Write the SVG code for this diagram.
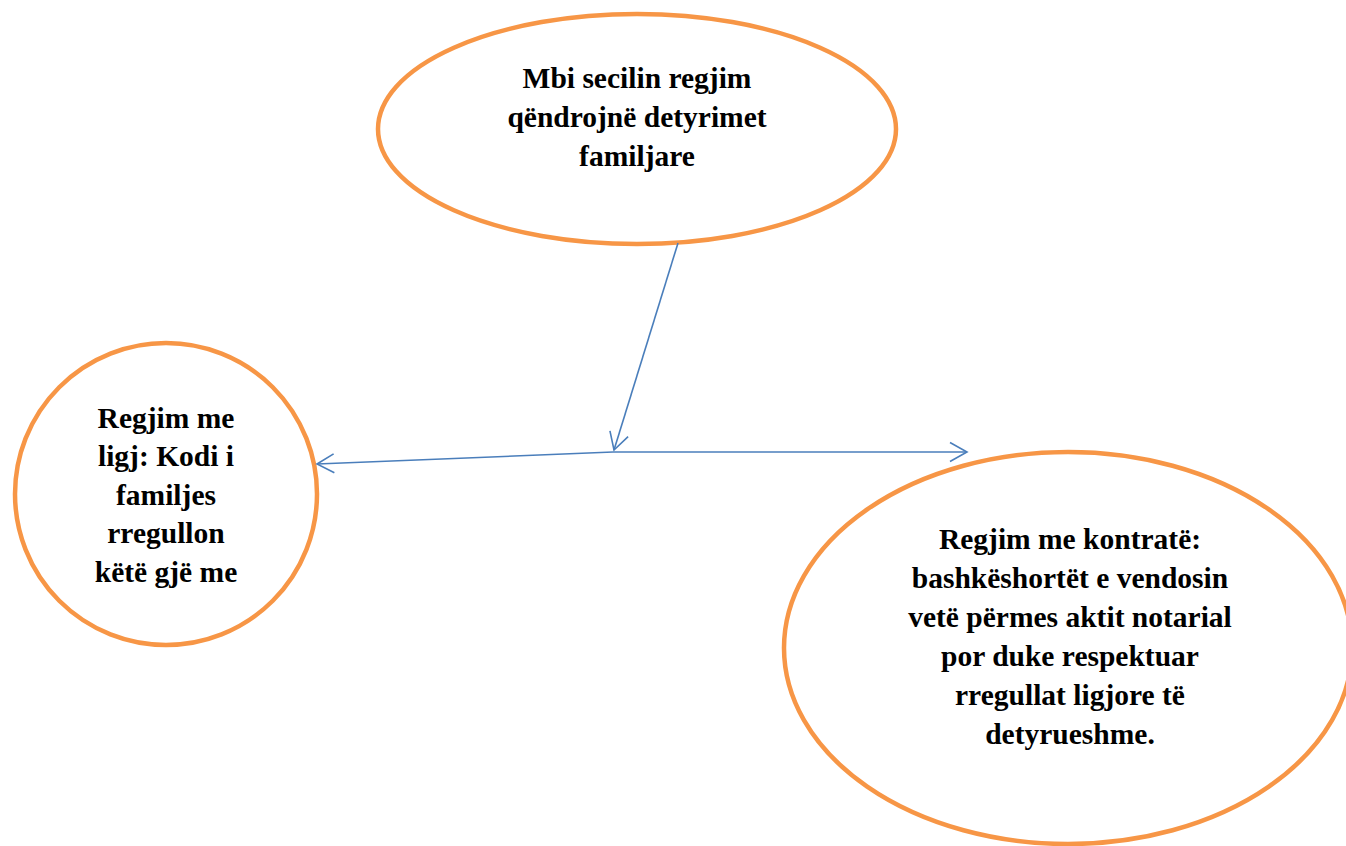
<svg xmlns="http://www.w3.org/2000/svg" width="1346" height="846" viewBox="0 0 1346 846">
<style>
.node{fill:#ffffff;stroke:#F79646;stroke-width:4.5}
.lbl{font-family:"Liberation Serif","Times New Roman",serif;font-weight:bold;font-size:29.5px;fill:#000000;text-anchor:middle}
.conn{fill:none;stroke:#4A7EBB;stroke-width:1.6}
</style>
<defs>
<marker id="arr" markerUnits="userSpaceOnUse" viewBox="-20 -12 22 24" refX="0" refY="0" markerWidth="22" markerHeight="24" orient="auto">
<path d="M-17,-9.5 L0,0 L-17,9.5" fill="none" stroke="#4A7EBB" stroke-width="1.6"/>
</marker>
</defs>
<rect width="1346" height="846" fill="#ffffff"/>
<g id="node-top">
<ellipse class="node" cx="637" cy="129" rx="259" ry="115"/>
<text class="lbl" x="637" y="88">Mbi secilin regjim</text>
<text class="lbl" x="637" y="127">qëndrojnë detyrimet</text>
<text class="lbl" x="637" y="166">familjare</text>
</g>
<g id="node-left">
<ellipse class="node" cx="166" cy="494" rx="151" ry="151"/>
<text class="lbl" x="166" y="428">Regjim me</text>
<text class="lbl" x="166" y="466">ligj: Kodi i</text>
<text class="lbl" x="166" y="505">familjes</text>
<text class="lbl" x="166" y="543">rregullon</text>
<text class="lbl" x="166" y="582">këtë gjë me</text>
</g>
<g id="node-right">
<ellipse class="node" cx="1068" cy="648" rx="284" ry="196"/>
<text class="lbl" x="1070" y="549">Regjim me kontratë:</text>
<text class="lbl" x="1070" y="588">bashkëshortët e vendosin</text>
<text class="lbl" x="1070" y="627">vetë përmes aktit notarial</text>
<text class="lbl" x="1070" y="666">por duke respektuar</text>
<text class="lbl" x="1070" y="705">rregullat ligjore të</text>
<text class="lbl" x="1070" y="744">detyrueshme.</text>
</g>
<g id="connectors">
<line class="conn" x1="678" y1="243" x2="614" y2="450" marker-end="url(#arr)"/>
<line class="conn" x1="613" y1="452" x2="317" y2="464" marker-end="url(#arr)"/>
<line class="conn" x1="613" y1="452" x2="967" y2="452" marker-end="url(#arr)"/>
</g>
</svg>
